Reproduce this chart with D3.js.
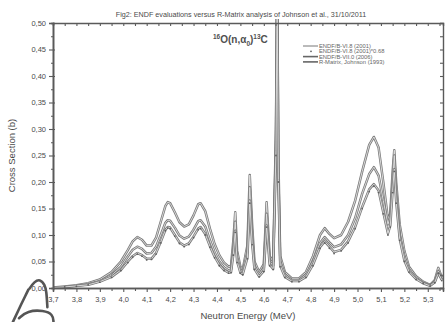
<!DOCTYPE html>
<html>
<head>
<meta charset="utf-8">
<script src="https://cdn.jsdelivr.net/npm/d3@7"></script>
<style>
  body { margin: 0; background: #fff; }
  svg { display: block; font-family: "Liberation Sans", Arial, sans-serif; }
</style>
</head>
<body>
<div id="chart"></div>
<script>

// neutron energy grid (MeV)
var energy = [3.70, 3.75, 3.80, 3.85, 3.90, 3.95, 3.99, 4.02, 4.04, 4.06, 4.08, 4.10, 4.12, 4.14, 4.16, 4.18, 4.19, 4.20, 4.22, 4.24,
  4.26, 4.28, 4.30, 4.32, 4.33, 4.35, 4.37, 4.39, 4.41, 4.43, 4.45, 4.46, 4.47, 4.478, 4.486, 4.50, 4.51, 4.53, 4.54, 4.55,
  4.56, 4.58, 4.60, 4.612, 4.625, 4.64, 4.652, 4.657, 4.662, 4.67, 4.69, 4.72, 4.75, 4.78, 4.81, 4.84, 4.86, 4.88, 4.90, 4.93,
  4.96, 4.99, 5.02, 5.05, 5.07, 5.09, 5.11, 5.13, 5.14, 5.15, 5.157, 5.165, 5.18, 5.20, 5.22, 5.25, 5.28, 5.31, 5.33, 5.345, 5.36]

// cross sections (b)
var vi8 = [0.001, 0.003, 0.005, 0.009, 0.016, 0.030, 0.050, 0.072, 0.088, 0.096, 0.091, 0.080, 0.080, 0.095, 0.125, 0.155, 0.162, 0.160, 0.143, 0.124,
  0.116, 0.120, 0.137, 0.158, 0.160, 0.145, 0.112, 0.083, 0.062, 0.048, 0.040, 0.042, 0.090, 0.143, 0.070, 0.040, 0.035, 0.080, 0.213, 0.120,
  0.050, 0.030, 0.045, 0.162, 0.060, 0.050, 0.300, 0.600, 0.250, 0.060, 0.030, 0.018, 0.018, 0.030, 0.060, 0.100, 0.113, 0.102, 0.094, 0.100,
  0.125, 0.165, 0.220, 0.270, 0.285, 0.265, 0.200, 0.130, 0.140, 0.220, 0.260, 0.200, 0.120, 0.070, 0.040, 0.022, 0.012, 0.006, 0.015, 0.038, 0.020]

var vii0 = [0.001, 0.002, 0.004, 0.007, 0.013, 0.024, 0.040, 0.060, 0.072, 0.078, 0.074, 0.065, 0.066, 0.078, 0.100, 0.123, 0.128, 0.127, 0.114, 0.099,
  0.093, 0.097, 0.110, 0.126, 0.128, 0.116, 0.090, 0.067, 0.050, 0.039, 0.033, 0.035, 0.075, 0.125, 0.058, 0.034, 0.030, 0.068, 0.190, 0.100,
  0.042, 0.026, 0.038, 0.140, 0.050, 0.042, 0.280, 0.600, 0.220, 0.050, 0.025, 0.015, 0.015, 0.025, 0.050, 0.085, 0.096, 0.086, 0.077, 0.082,
  0.100, 0.132, 0.178, 0.215, 0.228, 0.212, 0.165, 0.120, 0.135, 0.200, 0.250, 0.180, 0.100, 0.060, 0.035, 0.019, 0.010, 0.005, 0.012, 0.032, 0.016]

var vi8x068 = [0.001, 0.002, 0.003, 0.006, 0.011, 0.020, 0.033, 0.048, 0.058, 0.064, 0.060, 0.053, 0.054, 0.064, 0.085, 0.108, 0.113, 0.112, 0.098, 0.084,
  0.078, 0.082, 0.095, 0.110, 0.112, 0.100, 0.077, 0.057, 0.042, 0.033, 0.028, 0.029, 0.062, 0.105, 0.048, 0.028, 0.025, 0.055, 0.160, 0.082,
  0.035, 0.021, 0.031, 0.115, 0.042, 0.035, 0.250, 0.550, 0.200, 0.040, 0.020, 0.012, 0.012, 0.020, 0.042, 0.075, 0.085, 0.075, 0.065, 0.070,
  0.085, 0.112, 0.150, 0.182, 0.192, 0.180, 0.140, 0.100, 0.115, 0.180, 0.220, 0.160, 0.090, 0.050, 0.030, 0.016, 0.009, 0.004, 0.010, 0.027, 0.014]

var rmatrix = [0.001, 0.002, 0.004, 0.006, 0.012, 0.021, 0.034, 0.050, 0.060, 0.066, 0.062, 0.055, 0.055, 0.066, 0.087, 0.110, 0.115, 0.114, 0.100, 0.086,
  0.080, 0.084, 0.097, 0.112, 0.115, 0.102, 0.079, 0.059, 0.044, 0.034, 0.029, 0.030, 0.064, 0.108, 0.050, 0.029, 0.026, 0.057, 0.165, 0.085,
  0.036, 0.022, 0.032, 0.118, 0.044, 0.036, 0.260, 0.560, 0.205, 0.042, 0.021, 0.013, 0.013, 0.021, 0.044, 0.077, 0.088, 0.078, 0.068, 0.072,
  0.088, 0.115, 0.153, 0.186, 0.196, 0.184, 0.143, 0.103, 0.118, 0.184, 0.224, 0.164, 0.093, 0.052, 0.031, 0.017, 0.009, 0.004, 0.011, 0.028, 0.015]

var seriesNames = ['ENDF/B-VI.8 (2001)', 'ENDF/B-VI.8 (2001)*0.68', 'ENDF/B-VII.0 (2006)', 'R-Matrix, Johnson (1993)']
var xTicks = [3.7, 3.8, 3.9, 4.0, 4.1, 4.2, 4.3, 4.4, 4.5, 4.6, 4.7, 4.8, 4.9, 5.0, 5.1, 5.2, 5.3]
var yTicks = [0, 0.05, 0.10, 0.15, 0.20, 0.25, 0.30, 0.35, 0.40, 0.45, 0.50]

// stray pen stroke in the lower left corner of the scan (energy, b)
var scribbleA = [[3.529, -0.064], [3.565, -0.030], [3.585, -0.012], [3.595, -0.003]]
var scribbleB = [[3.600, -0.001], [3.620, 0.012], [3.645, 0.017], [3.665, 0.006], [3.672, -0.006], [3.676, -0.036]]
var scribbleC = [[3.555, -0.057], [3.590, -0.043], [3.660, -0.042], [3.700, -0.050], [3.702, -0.064]]

var W = 445, H = 322
var margin = { top: 23, right: 2, bottom: 34, left: 53 }
var axisColor = '#5a5a5a', textColor = '#4a4a4a'
var fmt = function(d) { return d3.format('.2f')(d).replace('.', ',') }
var fmtX = function(d) { return d3.format('.1f')(d).replace('.', ',') }

var x = d3.scaleLinear().domain([3.7, 5.365]).range([margin.left, W - margin.right])
var y = d3.scaleLinear().domain([0, 0.5]).range([H - margin.bottom, margin.top])

var svg = d3.select('#chart').append('svg')
  .attr('width', W)
  .attr('height', H)

svg.append('defs').append('clipPath').attr('id', 'plotClip')
  .append('rect')
  .attr('x', margin.left).attr('y', margin.top - 4)
  .attr('width', W - margin.left - margin.right)
  .attr('height', H - margin.top - margin.bottom + 4)

// title
svg.append('text')
  .attr('x', 241).attr('y', 17)
  .attr('text-anchor', 'middle')
  .attr('font-size', 7.2)
  .attr('fill', textColor)
  .text('Fig2: ENDF evaluations versus R-Matrix analysis of Johnson et al., 31/10/2011')

// curves
var line = d3.line()
  .x(function(d) { return x(d[0]) })
  .y(function(d) { return y(d[1]) })

function pairs(vals) { return energy.map(function(e, i) { return [e, vals[i]] }) }

var plot = svg.append('g').attr('clip-path', 'url(#plotClip)')

var lineSeries = [vi8, vii0, rmatrix]
lineSeries.forEach(function(vals) {
  plot.append('path')
    .attr('d', line(pairs(vals)))
    .attr('fill', 'none')
    .attr('stroke', '#7a7a7a')
    .attr('stroke-width', 2.5)
    .attr('stroke-linejoin', 'round')
  plot.append('path')
    .attr('d', line(pairs(vals)))
    .attr('fill', 'none')
    .attr('stroke', '#e2e2e2')
    .attr('stroke-width', 0.9)
    .attr('stroke-linejoin', 'round')
})

plot.selectAll('.dot')
  .data(pairs(vi8x068))
  .enter().append('circle')
  .attr('class', 'dot')
  .attr('cx', function(d) { return x(d[0]) })
  .attr('cy', function(d) { return y(d[1]) })
  .attr('r', 0.9)
  .attr('fill', '#606060')

// axes
function styleAxis(g) {
  g.select('.domain').attr('stroke', axisColor).attr('stroke-width', 1.4)
  g.selectAll('.tick line').attr('stroke', axisColor).attr('stroke-width', 1.1)
  g.selectAll('.tick text').attr('fill', textColor)
}

var xMinor = d3.range(3.75, 5.36, 0.1)
var yMinor = d3.range(0.025, 0.5, 0.05)

svg.append('g')
  .attr('transform', 'translate(0,' + (H - margin.bottom) + ')')
  .call(d3.axisBottom(x).tickValues(xTicks).tickFormat(fmtX).tickSize(4).tickPadding(5))
  .attr('font-size', 7.5).attr('font-family', null)
  .call(styleAxis)
svg.append('g')
  .attr('transform', 'translate(0,' + (H - margin.bottom) + ')')
  .call(d3.axisBottom(x).tickValues(xMinor).tickFormat('').tickSize(3))
  .call(styleAxis)

svg.append('g')
  .attr('transform', 'translate(' + margin.left + ',0)')
  .call(d3.axisLeft(y).tickValues(yTicks).tickFormat(fmt).tickSize(4).tickPadding(3))
  .attr('font-size', 7.5).attr('font-family', null)
  .call(styleAxis)
svg.append('g')
  .attr('transform', 'translate(' + margin.left + ',0)')
  .call(d3.axisLeft(y).tickValues(yTicks).tickFormat('').tickSize(-2))
  .call(styleAxis)
svg.append('g')
  .attr('transform', 'translate(' + margin.left + ',0)')
  .call(d3.axisLeft(y).tickValues(yMinor).tickFormat('').tickSize(2))
  .call(styleAxis)

svg.append('g')
  .attr('transform', 'translate(0,' + margin.top + ')')
  .call(d3.axisTop(x).tickValues(xTicks.concat(xMinor)).tickFormat('').tickSize(-3))
  .call(styleAxis)

svg.append('g')
  .attr('transform', 'translate(' + (W - margin.right) + ',0)')
  .call(d3.axisRight(y).tickValues(yTicks.concat(yMinor)).tickFormat('').tickSize(-3))
  .call(styleAxis)

// axis titles
svg.append('text')
  .attr('x', (margin.left + W - margin.right) / 2)
  .attr('y', 319)
  .attr('text-anchor', 'middle')
  .attr('font-size', 9.5)
  .attr('fill', textColor)
  .text('Neutron Energy (MeV)')

svg.append('text')
  .attr('transform', 'translate(15,' + ((margin.top + H - margin.bottom) / 2) + ') rotate(-90)')
  .attr('text-anchor', 'middle')
  .attr('font-size', 9.5)
  .attr('fill', textColor)
  .text('Cross Section (b)')

// reaction label
var lab = svg.append('text')
  .attr('x', 213).attr('y', 43)
  .attr('font-size', 10)
  .attr('font-weight', 'bold')
  .attr('fill', '#505050')
lab.append('tspan').attr('font-size', 6.5).attr('dy', -4).text('16')
lab.append('tspan').attr('dy', 4).text('O(n,α')
lab.append('tspan').attr('font-size', 6.5).attr('dy', 3).text('0')
lab.append('tspan').attr('dy', -3).text(')')
lab.append('tspan').attr('font-size', 6.5).attr('dy', -4).text('13')
lab.append('tspan').attr('dy', 4).text('C')

// legend
var legend = svg.selectAll('.legend')
  .data(seriesNames)
  .enter().append('g')
  .attr('class', 'legend')
  .attr('transform', function(d, i) { return 'translate(303,' + (46 + i * 5.3) + ')' })

legend.each(function(d, i) {
  var g = d3.select(this)
  if (i == 1) {
    g.append('circle').attr('cx', 8).attr('cy', 0).attr('r', 0.9).attr('fill', '#606060')
  } else {
    g.append('line')
      .attr('x1', 0).attr('x2', 15).attr('y1', 0).attr('y2', 0)
      .attr('stroke', '#666').attr('stroke-width', i == 0 ? 0.9 : 1.6)
  }
  g.append('text')
    .attr('x', 16).attr('y', 2)
    .attr('font-size', 5.8)
    .attr('fill', '#666')
    .text(d)
})

// pen stroke
var scribble = d3.line()
  .x(function(d) { return x(d[0]) })
  .y(function(d) { return y(d[1]) })
  .curve(d3.curveBasis)
;[scribbleA, scribbleB, scribbleC].forEach(function(s) {
  svg.append('path')
    .attr('d', scribble(s))
    .attr('fill', 'none')
    .attr('stroke', '#555')
    .attr('stroke-width', 2.6)
    .attr('stroke-linecap', 'round')
})

</script>
</body>
</html>
